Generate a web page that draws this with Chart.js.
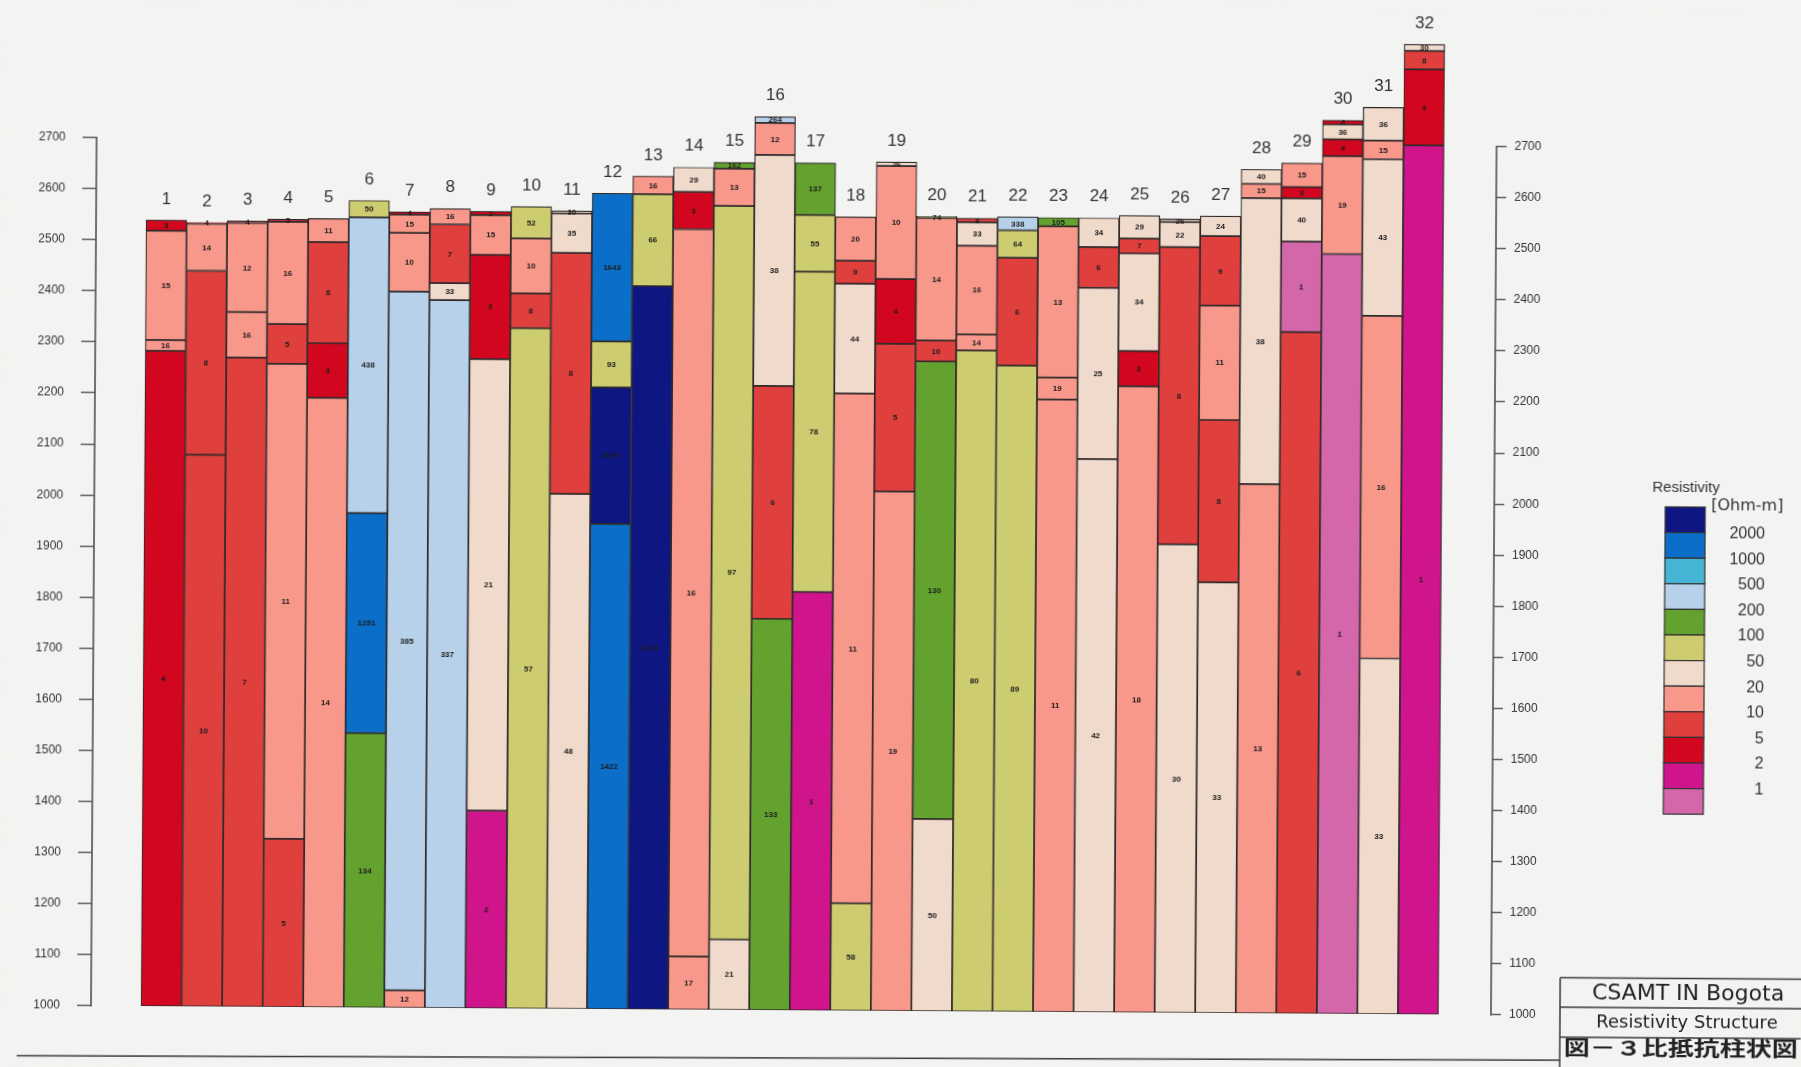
<!DOCTYPE html>
<html>
<head>
<meta charset="utf-8">
<title>CSAMT IN Bogota - Resistivity Structure</title>
<script src="https://cdn.jsdelivr.net/npm/chart.js@4.4.1/dist/chart.umd.min.js"></script>
<style>
  html, body { margin: 0; padding: 0; background: #f3f3f1; overflow: hidden; }
  #wrap { position: relative; width: 1801px; height: 1067px; }
  #chart { display: block; transform: rotate(0.37deg); transform-origin: 138px 1006px; }
</style>
</head>
<body>
<div id="wrap"><canvas id="chart" width="1801" height="1067"></canvas></div>
<script>
// Sounding stations
const columns = [1, 2, 3, 4, 5, 6, 7, 8, 9, 10, 11, 12, 13, 14, 15, 16,
                 17, 18, 19, 20, 21, 22, 23, 24, 25, 26, 27, 28, 29, 30, 31, 32];

// Ground surface elevation at each station (m)
const surface = [2539, 2535, 2538, 2542, 2544, 2580, 2558, 2565, 2560, 2570, 2562, 2597, 2631, 2649, 2659, 2749,
                 2659, 2554, 2662, 2556, 2553, 2556, 2555, 2555, 2560, 2554, 2560, 2652, 2665, 2749, 2775, 2899];

// Layer boundaries below the surface (m), top to bottom
const interfaces = [
  [2518, 2304, 2283],
  [2532, 2440, 2080],
  [2534, 2360, 2271],
  [2537, 2337, 2259, 1329],
  [2498, 2300, 2193],
  [2547, 1968, 1537],
  [2553, 2517, 2402, 1034],
  [2534, 2419, 2386],
  [2553, 2475, 2271, 1387],
  [2508, 2400, 2332],
  [2557, 2480, 2008],
  [2307, 2217, 1950],
  [2596, 2416],
  [2601, 2528, 1104],
  [2647, 2574, 1138],
  [2737, 2674, 2222, 1766],
  [2557, 2446, 1819],
  [2468, 2423, 2208, 1210],
  [2654, 2433, 2306, 2017],
  [2553, 2313, 2272, 1376],
  [2545, 2499, 2325, 2294],
  [2530, 2476, 2265],
  [2538, 2242, 2199],
  [2498, 2418, 2083],
  [2515, 2486, 2295, 2226],
  [2548, 2499, 1917],
  [2521, 2385, 2161, 1843],
  [2624, 2596, 2036],
  [2618, 2596, 2511, 2334],
  [2741, 2712, 2679, 2487],
  [2710, 2673, 2367, 1696],
  [2886, 2850, 2701]
];

// Resistivity of each layer (Ohm-m), top to bottom
const resistivity = [
  [3, 15, 16, 4],
  [4, 14, 8, 10],
  [4, 12, 16, 7],
  [5, 16, 5.4, 11, 5.4],
  [11, 8, 3, 14],
  [50.4, 438, 1251, 134],
  [4, 15, 10.4, 385, 12],
  [16, 7, 33, 337],
  [2.4, 15, 3, 21, 2],
  [52, 10.4, 8, 57],
  [30, 35, 8, 48],
  [1643, 93, 4570, 1422],
  [16, 66, 2224],
  [29, 3, 16, 17],
  [162, 13, 97, 21],
  [264, 12, 38, 6, 133],
  [137, 55, 78, 1.4],
  [20, 9, 44, 11, 58],
  [26, 10.4, 4, 5.4, 19],
  [74, 14, 10, 130, 50],
  [8, 33, 16, 14, 80],
  [338, 64, 6, 89],
  [105, 13, 19, 11],
  [34, 6, 25, 42],
  [29, 7, 34, 3, 18],
  [26, 22, 8, 30],
  [24, 9, 11, 8, 33],
  [40, 15, 38, 13],
  [15, 3, 40, 1, 6],
  [4, 36, 4, 19, 1],
  [36, 15, 43, 16, 33],
  [30, 8, 4, 1.4]
];

const baseElevation = 1000;
const topElevation = 2950;
const elevationTicks = [1000, 1100, 1200, 1300, 1400, 1500, 1600, 1700, 1800,
                        1900, 2000, 2100, 2200, 2300, 2400, 2500, 2600, 2700];

// Resistivity classes: upper limits and fill colours (lowest class first)
const classLimits = [1, 2, 5, 10, 20, 50, 100, 200, 500, 1000, 2000];
const classColors = ['#d466aa', '#cf148c', '#d2071f', '#df3f3d', '#f7988b', '#f0dacb',
                     '#cdcc70', '#64a22f', '#b8d1ea', '#45b5d6', '#0b6ec8', '#0e1781'];

function colorFor(r) {
  let i = 0;
  while (i < classLimits.length && r > classLimits[i]) i++;
  return classColors[i];
}

// One floating-bar dataset per layer index, overlapping at each station
const maxLayers = Math.max(...resistivity.map(r => r.length));
const datasets = [];
for (let k = 0; k < maxLayers; k++) {
  const data = [];
  const colors = [];
  columns.forEach((col, c) => {
    const rho = resistivity[c];
    if (k < rho.length) {
      const bounds = [surface[c], ...interfaces[c], baseElevation];
      data.push({ x: col, y: [bounds[k + 1], bounds[k]], rho: rho[k] });
      colors.push(colorFor(rho[k]));
    }
  });
  datasets.push({
    data,
    backgroundColor: colors,
    borderColor: '#2e2a2a',
    borderWidth: 1.2,
    borderSkipped: false,
    grouped: false,
    barPercentage: 1,
    categoryPercentage: 1
  });
}

const paper = '#f3f3f1';

const pagePlugin = {
  id: 'page',
  beforeDraw(chart) {
    const ctx = chart.ctx;
    ctx.save();
    ctx.fillStyle = paper;
    ctx.fillRect(0, 0, chart.width, chart.height);
    ctx.restore();
  },
  afterDatasetsDraw(chart) {
    const ctx = chart.ctx;
    const xs = chart.scales.x;
    const ys = chart.scales.y;
    ctx.save();
    // resistivity value inside each layer
    ctx.font = 'bold 8px "Liberation Sans", Arial, sans-serif';
    ctx.fillStyle = '#1b1b1b';
    ctx.textAlign = 'center';
    ctx.textBaseline = 'middle';
    chart.data.datasets.forEach((ds, i) => {
      chart.getDatasetMeta(i).data.forEach((bar, j) => {
        const p = bar.getProps(['x', 'y', 'base'], true);
        ctx.fillText(String(Math.round(ds.data[j].rho)), p.x, (p.y + p.base) / 2 + 0.5);
      });
    });
    // station numbers above each column
    ctx.font = '17px "Liberation Sans", Arial, sans-serif';
    ctx.fillStyle = '#333';
    columns.forEach((col, c) => {
      ctx.fillText(String(col), xs.getPixelForValue(col), ys.getPixelForValue(surface[c]) - 21);
    });
    // axis lines spanning the tick range
    ctx.strokeStyle = '#505050';
    ctx.lineWidth = 1.6;
    const y0 = ys.getPixelForValue(elevationTicks[0]);
    const y1 = ys.getPixelForValue(elevationTicks[elevationTicks.length - 1]);
    [chart.chartArea.left, chart.chartArea.right].forEach(x => {
      ctx.beginPath();
      ctx.moveTo(x, y0 + 0.8);
      ctx.lineTo(x, y1 - 0.8);
      ctx.stroke();
    });
    ctx.restore();
  },
  afterDraw(chart) {
    const ctx = chart.ctx;
    ctx.save();
    // legend
    ctx.fillStyle = '#333';
    ctx.font = '15px "Liberation Sans", Arial, sans-serif';
    ctx.textAlign = 'left';
    ctx.textBaseline = 'middle';
    ctx.fillText('Resistivity', 1649, 478);
    ctx.font = '16px "DejaVu Sans", sans-serif';
    ctx.fillText('[Ohm-m]', 1708, 496);
    const bx = 1662, bw = 40, by = 497, bh = 25.6;
    const n = classColors.length;
    for (let i = 0; i < n; i++) {
      const y = by + i * bh;
      ctx.fillStyle = classColors[n - 1 - i];
      ctx.fillRect(bx, y, bw, bh);
      ctx.strokeStyle = '#333';
      ctx.lineWidth = 1.2;
      ctx.strokeRect(bx, y, bw, bh);
    }
    ctx.fillStyle = '#333';
    ctx.font = '16px "Liberation Sans", Arial, sans-serif';
    ctx.textAlign = 'right';
    for (let i = 0; i < classLimits.length; i++) {
      ctx.fillText(String(classLimits[classLimits.length - 1 - i]), 1762, by + (i + 1) * bh + 1);
    }
    // title block
    ctx.strokeStyle = '#3a3a3a';
    ctx.lineWidth = 1.5;
    ctx.beginPath();
    ctx.moveTo(1560, 968.5); ctx.lineTo(1801, 968.5);
    ctx.moveTo(1560, 998); ctx.lineTo(1801, 998);
    ctx.moveTo(1560, 1028); ctx.lineTo(1801, 1028);
    ctx.moveTo(1560, 968.5); ctx.lineTo(1560, 1067);
    ctx.stroke();
    ctx.lineWidth = 1.4;
    ctx.beginPath();
    ctx.moveTo(17, 1056.5); ctx.lineTo(1560, 1051);
    ctx.stroke();
    ctx.fillStyle = '#222';
    ctx.textAlign = 'center';
    ctx.font = '22px "DejaVu Sans", sans-serif';
    ctx.fillText('CSAMT IN Bogota', 1688, 984);
    ctx.font = '18px "DejaVu Sans", sans-serif';
    ctx.fillText('Resistivity Structure', 1687, 1013.5);
    ctx.save();
    ctx.translate(1564, 1038);
    ctx.scale(1.3, 1);
    ctx.textAlign = 'left';
    ctx.font = 'bold 20px "Noto Sans CJK JP", sans-serif';
    ctx.fillText('図－３比抵抗柱状図', 0, 0);
    ctx.restore();
    ctx.restore();
  }
};

const tickFont = { family: '"Liberation Sans", Arial, sans-serif', size: 12 };
const noPad = s => { s.paddingTop = 0; s.paddingBottom = 0; };

new Chart(document.getElementById('chart'), {
  type: 'bar',
  data: { datasets },
  plugins: [pagePlugin],
  options: {
    responsive: false,
    animation: false,
    devicePixelRatio: 1,
    layout: { padding: { top: 10, bottom: 61, left: 0, right: 0 } },
    plugins: { legend: { display: false }, tooltip: { enabled: false } },
    scales: {
      x: {
        type: 'linear',
        display: false,
        offset: false,
        bounds: 'data',
        min: -0.733,
        max: 33.795,
        afterBuildTicks: s => { s.ticks = columns.map(v => ({ value: v })); }
      },
      y: {
        position: 'left',
        min: baseElevation,
        max: topElevation,
        afterBuildTicks: s => { s.ticks = elevationTicks.map(v => ({ value: v })); },
        afterFit: s => { s.width = 91; noPad(s); },
        border: { display: false },
        grid: { drawOnChartArea: false, drawTicks: true, tickLength: 14, color: '#4a4a4a', lineWidth: 1.3 },
        ticks: { font: tickFont, color: '#333', padding: 17, callback: v => String(v) }
      },
      y2: {
        position: 'right',
        min: baseElevation,
        max: topElevation,
        afterBuildTicks: s => { s.ticks = elevationTicks.map(v => ({ value: v })); },
        afterFit: s => { s.width = 1801 - 1491; noPad(s); },
        border: { display: false },
        grid: { drawOnChartArea: false, drawTicks: true, tickLength: 10, color: '#4a4a4a', lineWidth: 1.3 },
        ticks: { font: tickFont, color: '#333', padding: 8, callback: v => String(v) }
      }
    }
  }
});
</script>
</body>
</html>
